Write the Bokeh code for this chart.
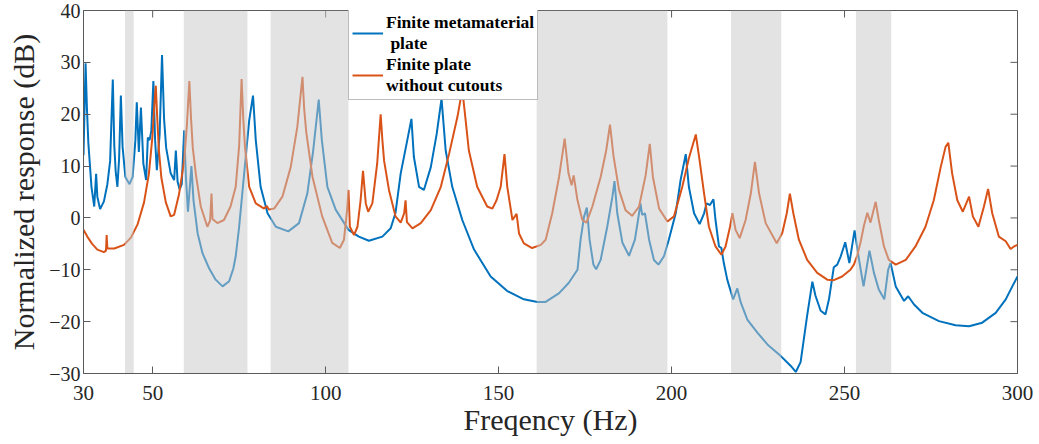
from bokeh.plotting import figure
from bokeh.models import FixedTicker, Legend, LegendItem, Range1d
from bokeh.embed import file_html
from bokeh.resources import INLINE

# Shaded frequency bands (Hz)
band_start = [42.0, 59.0, 84.1, 161.0, 217.2, 253.3]
band_end = [44.5, 77.4, 106.6, 198.8, 231.7, 263.5]

# Finite metamaterial plate
freq_meta = [30.0, 30.6, 31.0, 31.4, 32.3, 33.1, 33.65, 34.0, 34.8, 35.9, 36.9, 37.7, 38.47, 38.9, 39.3, 39.8,
             40.3, 40.8, 41.3, 42.1, 43.3, 44.2, 45.0, 45.4, 46.0, 46.6, 47.3, 48.1, 48.6, 49.1, 49.6, 50.2,
             50.7, 51.2, 52.0, 52.7, 53.3, 53.9, 55.2, 56.2, 56.7, 57.2, 57.8, 58.4, 59.1, 59.6, 60.2, 61.2,
             61.8, 63.0, 64.4, 66.3, 68.2, 70.2, 72.1, 73.3, 74.0, 75.0, 75.9, 76.9, 77.9, 79.0, 79.8, 81.2,
             83.2, 85.6, 89.2, 92.3, 94.7, 96.4, 98.0, 98.9, 100.5, 102.9, 106.6, 109.6, 112.5, 116.4, 118.8,
             120.2, 121.7, 123.6, 124.8, 125.5, 127.0, 128.4, 130.4, 132.1, 133.5, 134.7, 136.6, 139.5, 142.9,
             147.7, 152.5, 157.3, 161.2, 163.6, 167.5, 170.3, 172.8, 173.7, 174.7, 175.5, 176.3, 177.4, 178.2,
             179.5, 181.4, 182.9, 183.5, 184.3, 185.8, 187.7, 189.4, 190.6, 191.0, 191.5, 192.3, 193.5, 194.9,
             196.2, 197.8, 199.2, 201.2, 202.6, 204.1, 205.0, 206.5, 208.1, 209.4, 210.1, 211.1, 212.1, 212.7,
             213.7, 214.4, 215.1, 216.1, 217.8, 219.0, 220.0, 221.9, 224.8, 227.7, 231.5, 234.4, 235.9, 237.3,
             239.2, 240.7, 241.6, 243.1, 244.5, 245.5, 246.9, 247.9, 248.9, 250.2, 251.4, 252.9, 254.2, 255.5,
             257.2, 258.5, 259.9, 261.5, 262.6, 263.3, 264.8, 267.2, 268.4, 270.1, 272.5, 277.3, 282.1, 286.0,
             289.8, 293.7, 296.6, 298.5, 300.0]
resp_meta = [12.1, 29.8, 21.0, 14.5, 6.0, 2.2, 8.5, 4.1, 1.7, 3.2, 6.5, 11.0, 26.7, 14.0, 9.0, 6.0,
             11.5, 23.6, 13.7, 7.9, 6.5, 7.9, 15.0, 22.3, 12.7, 21.3, 10.5, 7.3, 15.5, 15.0, 16.8, 26.4,
             15.0, 9.2, 16.0, 31.4, 19.0, 13.5, 8.6, 7.3, 13.0, 7.0, 5.5, 6.5, 16.9, 8.0, 1.2, 10.0,
             3.4, -3.0, -6.8, -9.7, -11.9, -13.2, -12.2, -9.8, -7.4, -1.7, 4.7, 11.8, 18.8, 23.6, 15.0, 6.0,
             0.9, -1.7, -2.6, -1.0, 4.7, 13.0, 22.8, 15.0, 6.0, 1.6, -2.3, -3.6, -4.4, -3.6, -2.0,
             1.0, 8.6, 15.0, 19.1, 11.8, 6.0, 5.4, 9.8, 16.2, 23.0, 13.0, 6.0, -0.4, -6.1,
             -11.3, -14.1, -15.7, -16.2, -16.2, -14.5, -12.5, -10.0, -4.2, 0.25, 2.0, -4.2, -9.0, -9.9,
             -8.1, -1.7, 4.1, 7.1, 0.9, -4.8, -7.3, -4.2, 0.9, 2.8, 0.6, 0.9, -4.2, -8.1,
             -9.0, -7.4, -4.2, 0.9, 7.3, 12.3, 6.0, 0.9, -1.2, 0.9, 2.8, 2.5, 3.6, -0.4,
             -5.5, -5.8, -8.7, -11.9, -15.7, -13.6, -16.3, -19.6, -22.1, -24.4, -26.6, -28.5, -29.7, -27.8,
             -18.8, -12.3, -15.0, -17.9, -18.6, -15.7, -9.5, -9.0, -7.4, -4.7, -8.7, -2.4, -8.1, -13.2,
             -6.3, -10.6, -13.8, -15.7, -10.0, -8.7, -13.2, -16.0, -15.1, -16.7, -18.3, -19.9, -20.7, -20.9,
             -20.2, -18.3, -15.7, -13.2, -11.3]

# Finite plate without cutouts
freq_plain = [30.0, 31.1, 32.5, 34.0, 35.9, 36.5, 36.7, 36.9, 38.9, 41.7, 43.7, 45.6, 47.5, 48.9, 49.9, 50.5,
              50.9, 51.3, 51.8, 52.5, 53.8, 55.2, 56.2, 57.6, 59.1, 59.9, 60.6, 61.1, 61.6, 62.5, 63.9, 65.8,
              66.6, 67.0, 67.3, 68.7, 70.6, 72.5, 74.0, 75.0, 75.7, 76.2, 76.7, 77.9, 79.8, 82.2, 83.0, 83.6,
              85.1, 87.5, 89.9, 91.8, 93.3, 93.8, 94.4, 96.2, 99.0, 101.9, 104.1, 105.3, 106.2, 106.6, 107.0,
              108.2, 109.2, 110.1, 110.8, 111.6, 112.3, 113.5, 114.9, 115.9, 116.4, 116.9, 118.3, 120.2, 121.7,
              122.7, 123.1, 123.5, 125.1, 127.5, 130.4, 133.3, 135.7, 138.1, 139.5, 140.2, 141.4, 143.8, 146.7,
              148.2, 149.4, 150.6, 151.7, 152.5, 154.0, 154.7, 155.2, 155.9, 157.3, 159.7, 162.2, 163.6, 165.5,
              167.5, 169.1, 170.2, 171.1, 171.7, 172.8, 174.2, 175.4, 177.1, 179.5, 181.1, 182.2, 183.2, 184.8,
              186.7, 188.6, 190.6, 192.5, 193.7, 194.6, 196.4, 198.8, 200.7, 203.1, 205.0, 207.0, 208.1, 209.4,
              210.8, 212.7, 214.4, 215.6, 216.9, 217.6, 218.5, 219.7, 221.4, 222.9, 224.1, 225.3, 227.2, 230.4,
              232.0, 233.3, 234.2, 235.2, 236.8, 239.2, 242.1, 245.0, 246.9, 249.3, 251.7, 252.7, 253.7, 254.7,
              255.6, 256.6, 257.5, 259.0, 259.9, 261.4, 262.8, 264.8, 267.7, 270.5, 273.4, 275.8, 277.8, 279.2,
              280.0, 281.1, 282.6, 284.2, 286.0, 287.1, 288.7, 290.3, 291.5, 292.7, 294.6, 296.6, 298.0, 299.0,
              300.0]
resp_plain = [-2.3, -3.6, -5.0, -6.1, -6.6, -6.3, -3.3, -5.9, -5.9, -5.2, -3.8, -1.3, 3.0, 8.5, 15.5, 22.0,
              25.5, 19.5, 13.0, 7.8, 3.0, 0.3, 0.6, 4.5, 11.0, 18.0, 26.4, 19.0, 13.5, 8.3, 2.2, -1.7,
              -0.5, 4.7, -0.2, -1.0, -0.4, 2.2, 6.0, 14.0, 26.8, 19.0, 13.5, 6.0, 2.8, 1.8, 2.3, 1.6,
              1.8, 4.1, 9.8, 17.5, 27.2, 21.0, 16.5, 7.9, 0.3, -4.8, -5.8, -4.2, 1.5, 5.4, -1.7,
              -3.3, -1.7, 3.4, 9.1, 2.8, 1.2, 2.8, 10.5, 20.0, 15.0, 11.0, 5.4, 0.3, -0.9,
              0.9, 3.4, -0.8, -2.0, -1.0, 1.5, 6.0, 12.4, 19.5, 24.8, 20.5, 13.0, 6.0, 2.2,
              1.8, 3.4, 6.0, 12.3, 6.0, -0.4, 0.3, 0.8, -3.0, -4.9, -5.8, -5.2, -4.2, 0.9,
              8.0, 15.3, 8.6, 6.3, 8.2, 3.4, -0.4, -0.9, 2.2, 7.9, 13.0, 18.0, 12.0, 5.4,
              1.5, 0.4, 2.2, 8.2, 14.3, 7.9, 1.8, -0.7, 0.3, 6.0, 11.5, 16.1, 11.1, 4.7,
              -1.7, -5.5, -7.1, -5.5, -1.7, 0.9, -2.3, -3.9, -0.4, 4.7, 10.8, 4.7, -1.0, -4.9,
              -2.9, 0.9, 4.7, 0.9, -4.2, -8.1, -10.6, -11.9, -12.0, -11.3, -10.0, -9.0, -7.2, -4.5,
              -1.5, 1.0, -0.9, 3.1, -0.4, -5.5, -8.1, -9.0, -8.1, -5.5, -1.7, 3.4, 9.8, 13.7,
              14.5, 8.6, 3.4, 1.2, 4.1, 0.3, -1.7, 2.2, 5.6, 0.9, -3.6, -4.5, -6.0, -5.5,
              -5.2]

x_ticks = [30, 50, 100, 150, 200, 250, 300]
y_ticks = [-30, -20, -10, 0, 10, 20, 30, 40]

SERIF = "Liberation Serif"
AX = "#5a5a5a"

p = figure(width=1039, height=444, output_backend="svg", toolbar_location=None,
           x_range=Range1d(x_ticks[0], x_ticks[-1]), y_range=Range1d(y_ticks[0], y_ticks[-1]),
           min_border_left=83, min_border_right=22, min_border_top=10, min_border_bottom=71)
p.background_fill_color = "white"
p.border_fill_color = "white"
p.outline_line_color = AX
p.grid.visible = False

r1 = p.line(freq_meta, resp_meta, line_color="#0072BD", line_width=2)
r2 = p.line(freq_plain, resp_plain, line_color="#D95319", line_width=2)

# mirrored inward ticks on top and right edges of the box
p.ray(x=x_ticks, y=y_ticks[-1], length=7, length_units="screen", angle=-90, angle_units="deg",
      line_color=AX, line_width=1)
p.ray(x=x_ticks[-1], y=y_ticks, length=7, length_units="screen", angle=180, angle_units="deg",
      line_color=AX, line_width=1)

p.quad(left=band_start, right=band_end, bottom=y_ticks[0], top=y_ticks[-1],
       fill_color="#c7c7c7", fill_alpha=0.5, line_color=None)

for ax in (p.xaxis[0], p.yaxis[0]):
    ax.major_tick_in = 7
    ax.major_tick_out = 0
    ax.minor_tick_in = 0
    ax.minor_tick_out = 0
    ax.axis_line_color = AX
    ax.major_tick_line_color = AX
    ax.major_label_text_font = SERIF
    ax.major_label_text_color = "#262626"
    ax.axis_label_text_font = SERIF
    ax.axis_label_text_font_style = "normal"
    ax.axis_label_text_font_size = "30px"
    ax.axis_label_text_color = "#262626"

p.xaxis[0].major_label_text_font_size = "21px"
p.yaxis[0].major_label_text_font_size = "20px"
p.xaxis[0].ticker = FixedTicker(ticks=x_ticks)
p.yaxis[0].ticker = FixedTicker(ticks=y_ticks)
p.xaxis[0].axis_label = "Freqency (Hz)"
p.yaxis[0].axis_label = "Normalized response (dB)"
p.xaxis[0].major_label_standoff = 12
p.xaxis[0].axis_label_standoff = 0
p.yaxis[0].major_label_standoff = 3
p.yaxis[0].axis_label_standoff = 6

legend = Legend(items=[LegendItem(label="Finite metamaterial\n plate", renderers=[r1]),
                       LegendItem(label="Finite plate\nwithout cutouts", renderers=[r2])],
                location=(265, 273), orientation="vertical")
legend.label_text_font = SERIF
legend.label_text_font_style = "bold"
legend.label_text_font_size = "17.5px"
legend.label_text_color = "black"
legend.glyph_width = 31
legend.label_standoff = 3
legend.padding = 3
legend.spacing = 0
legend.margin = 0
legend.border_line_color = "#777777"
legend.border_line_width = 1
legend.background_fill_alpha = 1.0
p.add_layout(legend, "center")

open("out.html", "w").write(file_html(p, INLINE))
